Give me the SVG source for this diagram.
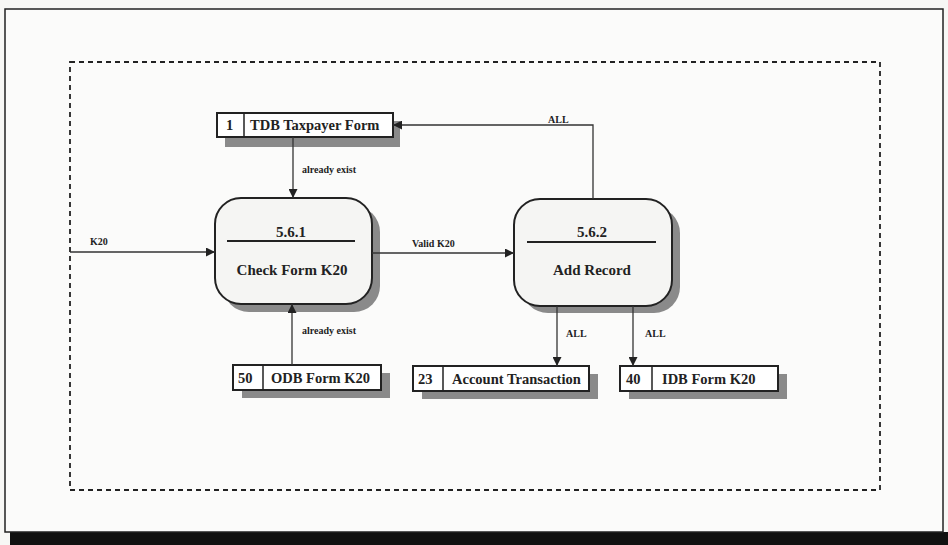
<svg xmlns="http://www.w3.org/2000/svg" width="948" height="545" viewBox="0 0 948 545">
<defs>
<style>
.t{font-family:"Liberation Serif","Times New Roman",serif;font-weight:bold;fill:#222}
.st{font-size:14.5px}
.pt{font-size:15px;text-anchor:middle}
.lb{font-size:10px}
.box{fill:#fff;stroke:#222;stroke-width:2}
.sh{fill:#8a8a8a}
.ln{fill:none;stroke:#333;stroke-width:1.3}
</style>
<marker id="ah" viewBox="0 0 10 10" refX="10" refY="5" markerWidth="9" markerHeight="9" markerUnits="userSpaceOnUse" orient="auto">
<path d="M0,0 L10,5 L0,10 z" fill="#222"/>
</marker>
</defs>
<rect width="948" height="545" fill="#f7f7f5"/>
<rect x="10" y="532" width="938" height="13" fill="#111"/>
<rect x="5" y="9" width="938" height="523" fill="#fbfbfa" stroke="#222" stroke-width="1.5"/>
<rect x="70" y="62" width="810" height="428" fill="none" stroke="#222" stroke-width="1.8" stroke-dasharray="5,4"/>

<g id="store1">
<rect class="sh" x="225" y="121" width="175" height="26"/>
<rect class="box" x="217" y="113" width="176" height="24"/>
<line x1="244" y1="113" x2="244" y2="137" stroke="#222" stroke-width="1.5"/>
<text class="t st" x="226" y="130">1</text>
<text class="t st" x="250" y="130">TDB Taxpayer Form</text>
</g>

<g id="p561">
<rect class="sh" x="223" y="206" width="157" height="106" rx="26"/>
<rect x="215" y="198" width="157" height="106" rx="26" fill="#f5f5f3" stroke="#222" stroke-width="2"/>
<text class="t pt" x="291" y="237">5.6.1</text>
<line x1="227" y1="241" x2="355" y2="241" stroke="#222" stroke-width="2"/>
<text class="t pt" x="292" y="275">Check Form K20</text>
</g>

<g id="p562">
<rect class="sh" x="522" y="207" width="158" height="106" rx="26"/>
<rect x="514" y="199" width="158" height="107" rx="26" fill="#f5f5f3" stroke="#222" stroke-width="2"/>
<text class="t pt" x="592" y="237">5.6.2</text>
<line x1="527" y1="242" x2="656" y2="242" stroke="#222" stroke-width="2"/>
<text class="t pt" x="592" y="275">Add Record</text>
</g>

<g id="store50">
<rect class="sh" x="242" y="373" width="148" height="25"/>
<rect class="box" x="233" y="365" width="148" height="25"/>
<line x1="263" y1="365" x2="263" y2="390" stroke="#222" stroke-width="1.5"/>
<text class="t st" x="238" y="383">50</text>
<text class="t st" x="271" y="383">ODB Form K20</text>
</g>

<g id="store23">
<rect class="sh" x="422" y="374" width="176" height="25"/>
<rect class="box" x="413" y="366" width="176" height="25"/>
<line x1="443" y1="366" x2="443" y2="391" stroke="#222" stroke-width="1.5"/>
<text class="t st" x="418" y="384">23</text>
<text class="t st" x="452" y="384">Account Transaction</text>
</g>

<g id="store40">
<rect class="sh" x="629" y="374" width="158" height="25"/>
<rect class="box" x="620" y="366" width="158" height="25"/>
<line x1="652" y1="366" x2="652" y2="391" stroke="#222" stroke-width="1.5"/>
<text class="t st" x="626" y="384">40</text>
<text class="t st" x="662" y="384">IDB Form K20</text>
</g>

<g id="connectors">
<path class="ln" d="M70,252 H215" marker-end="url(#ah)"/>
<text class="t lb" x="90" y="245">K20</text>
<path class="ln" d="M372,253 H514" marker-end="url(#ah)"/>
<text class="t lb" x="412" y="247">Valid K20</text>
<path class="ln" d="M293,137 V198" marker-end="url(#ah)"/>
<text class="t lb" x="302" y="173">already exist</text>
<path class="ln" d="M292,365 V304" marker-end="url(#ah)"/>
<text class="t lb" x="302" y="334">already exist</text>
<path class="ln" d="M593,199 V125 H393" marker-end="url(#ah)"/>
<text class="t lb" x="548" y="123">ALL</text>
<path class="ln" d="M557,306 V366" marker-end="url(#ah)"/>
<text class="t lb" x="566" y="337">ALL</text>
<path class="ln" d="M633,306 V366" marker-end="url(#ah)"/>
<text class="t lb" x="645" y="337">ALL</text>
</g>
</svg>
